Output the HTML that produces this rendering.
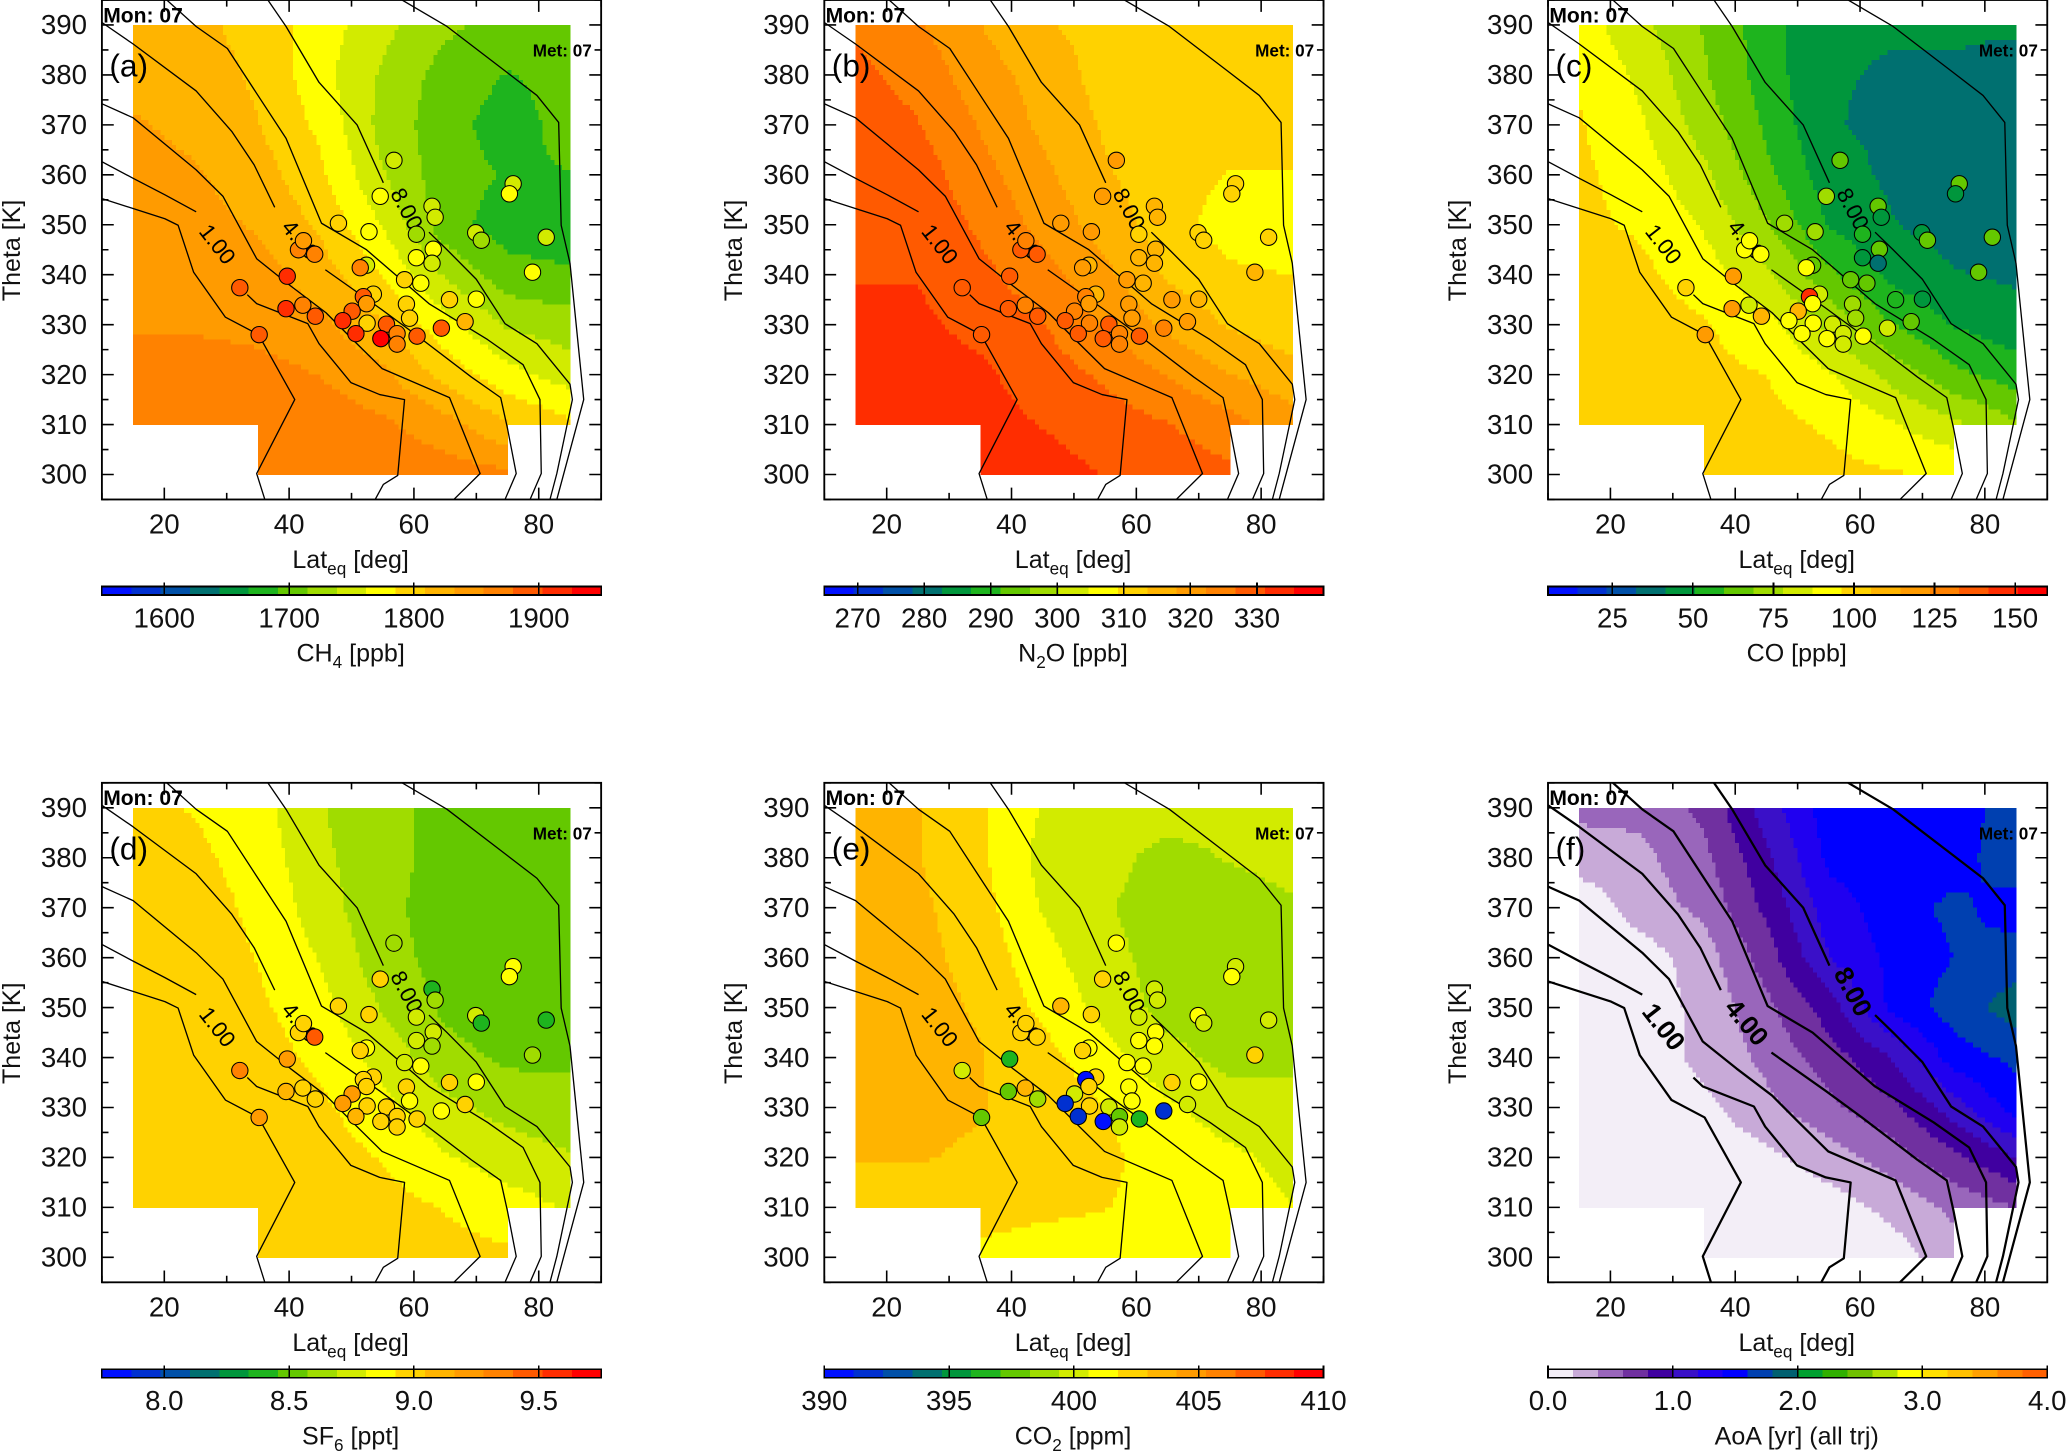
<!DOCTYPE html>
<html><head><meta charset="utf-8"><style>
html,body{margin:0;padding:0;background:#fff;}
svg{display:block;font-family:"Liberation Sans","DejaVu Sans",sans-serif;}
</style></head><body>
<svg id="chart" xmlns="http://www.w3.org/2000/svg" width="2067" height="1451" viewBox="0 0 1568 1101" preserveAspectRatio="none"></svg>
<script>
// ---- grid axes of the background fields ----
const lats=[15,25,35,45,55,65,75,85];
const thetas=[390,380,370,360,350,340,330,320,310,300];
// ---- background fields (rows = thetas, cols = lats) ----
const fieldA=[[1820,1815,1800,1775,1745,1720,1705,1710],[1825,1820,1805,1770,1735,1705,1690,1700],[1835,1825,1810,1780,1730,1700,1680,1700],[1845,1835,1820,1790,1740,1700,1690,1690],[1845,1840,1830,1805,1760,1700,1680,1675],[1848,1848,1842,1820,1785,1735,1700,1695],[1852,1852,1848,1838,1810,1770,1735,1725],[1870,1870,1865,1855,1838,1800,1770,1750],[1872,1872,1872,1870,1860,1842,1810,1790],[1872,1872,1872,1872,1870,1868,1862,1850]];
const fieldB=[[326,323,318,314,312,311,311,311],[328,325,320,316,312,311,310,311],[330,327,322,317,313,311,310,310],[331,329,324,319,314,311,309,309],[331,330,326,321,316,311,307,306],[331,331,328,324,319,313,310,309],[332,332,330,327,322,317,313,311],[333,333,332,329,326,322,318,315],[333,333,333,331,329,327,324,320],[333,333,333,333,331,329,328,327]];
const fieldC=[[92,80,68,55,42,42,42,42],[95,85,70,55,42,41,41,40],[97,88,74,58,42,40,40,38],[98,92,80,62,45,40,36,34],[98,95,86,70,50,42,38,37],[100,98,92,80,62,48,42,40],[100,100,97,90,76,60,50,45],[100,100,99,96,88,75,62,55],[100,100,100,99,95,88,80,70],[100,100,100,100,99,97,95,92]];
const fieldD=[[8.95,8.92,8.85,8.70,8.60,8.55,8.55,8.55],[9.00,8.95,8.88,8.72,8.60,8.55,8.52,8.52],[9.00,8.98,8.90,8.75,8.60,8.53,8.52,8.52],[9.00,9.00,8.92,8.80,8.62,8.53,8.52,8.52],[9.00,9.00,8.95,8.85,8.68,8.55,8.48,8.48],[9.00,9.00,8.98,8.90,8.76,8.62,8.55,8.55],[9.00,9.00,9.00,8.95,8.85,8.72,8.65,8.62],[9.02,9.00,9.00,8.98,8.92,8.82,8.75,8.70],[9.00,9.00,9.00,9.00,8.97,8.92,8.86,8.80],[9.00,9.00,9.00,9.00,9.00,8.97,8.95,8.92]];
const fieldE=[[403.5,403,402,400.5,400,400,399.8,400],[403.5,403,402,400.2,399.8,399,399.5,399.8],[403.5,403.2,402.2,400.5,399.5,398.9,398.8,399.3],[403.5,403.3,402.5,401,399.8,398.9,398.8,399],[403.5,403.4,402.8,401.5,400.2,399,398.8,398.8],[403.5,403.5,403,402.2,401,399.8,399,399],[403.2,403.2,403,402.5,401.8,400.8,400,400],[403,403,402.8,402.5,402,401.3,400.8,400.3],[402.5,402.5,402.2,402,401.8,401.4,401,400.6],[402,402,401.5,401.2,401.2,401.2,401.2,401]];
const fieldF=[[0.45,0.45,0.65,1.1,1.5,1.5,1.5,1.7],[0.3,0.35,0.55,0.95,1.45,1.5,1.5,1.75],[0.05,0.3,0.45,0.85,1.3,1.5,1.65,1.5],[0.05,0.1,0.3,0.7,1.2,1.45,1.6,1.7],[0.05,0.1,0.25,0.55,0.9,1.45,1.7,1.9],[0.05,0.1,0.25,0.45,0.7,1.0,1.5,1.65],[0.05,0.05,0.15,0.35,0.55,0.75,1.1,1.5],[0.05,0.05,0.05,0.15,0.3,0.5,0.75,1.0],[0.05,0.05,0.05,0.05,0.1,0.25,0.45,0.6],[0.05,0.05,0.05,0.05,0.05,0.1,0.3,0.3]];
// ---- observations (same flight points in panels a-e) ----
const obsLat=[56.8,54.6,47.9,52.8,62.9,63.4,60.4,75.9,75.3,69.9,70.8,81.2,79.0,41.5,44.1,42.3,63.1,60.4,62.9,52.4,51.4,39.7,32.1,58.5,61.1,53.5,51.9,52.4,42.2,39.5,44.2,50.1,48.6,58.8,65.7,70.0,59.3,68.2,52.5,55.6,57.3,50.7,54.7,60.5,57.3,64.4,35.2];
const obsTheta=[362.9,355.7,350.3,348.6,353.7,351.5,348.1,358.2,356.2,348.4,346.9,347.5,340.5,345.0,344.1,346.8,345.1,343.4,342.3,341.9,341.4,339.7,337.4,339.0,338.3,336.1,335.6,334.2,333.9,333.2,331.7,332.7,330.8,334.1,335.0,335.1,331.3,330.6,330.3,330.1,328.2,328.2,327.2,327.7,326.1,329.3,328.0];
const obsA=[1740,1775,1800,1780,1745,1745,1720,1750,1770,1745,1735,1745,1770,1860,1870,1850,1770,1775,1745,1740,1860,1910,1890,1790,1780,1790,1900,1840,1860,1920,1900,1880,1920,1800,1790,1780,1800,1820,1800,1890,1860,1910,1940,1900,1870,1900,1900];
const obsB=[318,322,322,318,314,314,313,313,313,313,313,313,315,327,327,325,315,316,316,314,320,329,329,320,317,316,326,322,323,330,329,326,329,322,318,316,322,322,323,327,325,329,330,327,326,326,327];
const obsC=[60,70,72,70,60,45,55,60,42,45,60,62,60,95,95,95,65,45,40,65,95,120,100,68,68,80,150,90,80,115,112,112,95,70,55,50,72,68,90,82,80,90,95,90,85,82,115];
const obsD=[8.6,8.95,8.95,8.95,8.45,8.6,8.8,8.85,8.85,8.8,8.45,8.45,8.65,9.0,9.4,9.0,8.8,8.8,8.65,8.85,9.0,9.2,9.3,8.8,8.85,8.95,9.0,9.0,9.0,9.1,9.0,9.2,9.2,8.95,8.95,8.85,8.85,8.95,9.0,9.0,9.0,9.15,9.0,9.0,9.0,8.9,9.2];
const obsE=[401,402.5,403,402,400.5,400.5,400.5,400.5,401,401,400.5,400.5,402,402.5,402.5,402.5,401,401,401,401.5,402,397,400.5,401,401,402,391,402,403,398,399,399.5,392,401,402,401,401,400.5,402.5,400.5,398,392,391,397,400,392,398];
// ---- age-of-air contour lines [lat, theta] ----
const contourLines=[
 [[9.9,355.3],[20.1,351.2],[22.2,349.9],[24.7,340.5],[29.8,331.5],[35.1,328],[40.9,315],[34.8,300.2],[36.1,295]],
 [[9.9,362.7],[15,359.3],[20.1,356],[25.1,352.6]],
 [[33.3,336],[34.8,334.2],[43,330.2],[44.8,326.2],[49.9,318.4],[54.5,316],[58.5,315],[57.4,299.8],[55.1,298],[53.8,295]],
 [[9.9,374.3],[15,371.4],[25.1,361],[29.4,355.7],[34.8,343.2],[40.2,337.8],[45.9,332.4],[50.2,327],[54.9,321.2],[65.7,315.4],[70.6,300.2],[66.4,295]],
 [[9.9,390.6],[15,386.2],[25.1,376.8],[30.8,368.7],[34.4,362],[37.7,353.5]],
 [[45.8,341],[54.5,333.3],[60.3,328],[69.2,319.5],[73.9,315.4],[75,309.2],[76.4,300.2],[74.6,295]],
 [[20.4,395],[25.1,389.7],[30.1,385.3],[34.8,376.3],[39.5,367.3],[45.2,350.3],[52.4,345],[62.4,334.2],[71.8,327],[77.5,322],[80.2,315],[80.4,300.2],[78.6,295]],
 [[36.6,395],[39.5,389.7],[44.8,378.5],[50.9,370],[55.1,358.4]],
 [[62.4,348.5],[65.3,345],[70,339.1],[74.6,330.2],[79.7,326.2],[85,318.1],[85.4,315],[82.9,300.2],[81.8,295]],
 [[58.1,395],[65.3,389.7],[74.6,380.8],[79.7,375.9],[83.2,370.5],[83.6,349.9],[85,342.3],[87.2,315],[82.9,295]]
];
const contourLabels=["1.00","4.00","8.00"];
const labelLat=[28.3,41.6,58.6];
const labelTheta=[345.9,346.8,353];

const NS="http://www.w3.org/2000/svg";
const svg=document.getElementById('chart');
function mk(tag,attrs,parent){const e=document.createElementNS(NS,tag);for(const k in attrs)e.setAttribute(k,attrs[k]);(parent||svg).appendChild(e);return e;}

const pal=['#0010ff','#0030d0','#0050a8','#007070','#00963c','#1eb41e','#64c800','#a0dc00','#d2eb00','#ffff00','#ffd200','#ffb400','#ff9b00','#ff8200','#ff5a00','#ff2d00','#ff0000'];
const palF=['#f3eef7','#c8aad8','#9966bb','#7030a0','#4000a0','#3a10c8','#2000f0','#0000ff','#0040b0','#006070','#00a030','#30b000','#70c000','#b0e000','#ffff00','#ffe000','#ffc000','#ffa000','#ff8000','#ff6000'];

const panels=[
 {id:'a',ox:0,oy:0,field:fieldA,obs:obsA,vmin:1550,vmax:1950,pal:pal,ticks:[1600,1700,1800,1900],tl:['1600','1700','1800','1900'],title:['CH','4',' [ppb]']},
 {id:'b',ox:548,oy:0,field:fieldB,obs:obsB,vmin:265,vmax:340,pal:pal,ticks:[270,280,290,300,310,320,330],tl:['270','280','290','300','310','320','330'],title:['N','2','O [ppb]']},
 {id:'c',ox:1097,oy:0,field:fieldC,obs:obsC,vmin:5,vmax:160,pal:pal,ticks:[25,50,75,100,125,150],tl:['25','50','75','100','125','150'],title:['CO [ppb]','','']},
 {id:'d',ox:0,oy:594,field:fieldD,obs:obsD,vmin:7.75,vmax:9.75,pal:pal,ticks:[8,8.5,9,9.5],tl:['8.0','8.5','9.0','9.5'],title:['SF','6',' [ppt]']},
 {id:'e',ox:548,oy:594,field:fieldE,obs:obsE,vmin:390,vmax:410,pal:pal,ticks:[390,395,400,405,410],tl:['390','395','400','405','410'],title:['CO','2',' [ppm]']},
 {id:'f',ox:1097,oy:594,field:fieldF,obs:null,vmin:0,vmax:4,pal:palF,ticks:[0,1,2,3,4],tl:['0.0','1.0','2.0','3.0','4.0'],title:['AoA [yr] (all trj)','','']}
];

function X(p,lat){return p.ox+77.3+(lat-10)*4.734;}
function Y(p,th){return p.oy+379-(th-295)*3.79;}
function interp(f,lat,th){
 let fi=(lat-15)/10, ti=(390-th)/10;
 fi=Math.max(0,Math.min(7,fi)); ti=Math.max(0,Math.min(9,ti));
 const i0=Math.min(6,Math.floor(fi)), j0=Math.min(8,Math.floor(ti));
 const u=fi-i0, v=ti-j0;
 return f[j0][i0]*(1-u)*(1-v)+f[j0][i0+1]*u*(1-v)+f[j0+1][i0]*(1-u)*v+f[j0+1][i0+1]*u*v;
}
function cidx(p,v){const N=p.pal.length;let k=Math.floor((v-p.vmin)/(p.vmax-p.vmin)*N);return Math.max(0,Math.min(N-1,k));}

panels.forEach(p=>{
 const g=mk('g',{});
 
 
 const cp=mk('clipPath',{id:'clip'+p.id},g);
 mk('rect',{x:X(p,10),y:Y(p,395),width:X(p,90)-X(p,10),height:Y(p,295)-Y(p,395)},cp);
 const fg=mk('g',{'shape-rendering':'crispEdges'},g);
 
 
 const dl=0.625, dt=1;
 for(let th=390;th>300;th-=dt){
  const tc=th-dt/2;
  let lo=15,hi=85;
  if(tc<310){lo=35;hi=75;}
  let runStart=lo,runK=-1;
  for(let la=lo;la<=hi+1e-6;la+=dl){
   let k=-1;
   if(la<hi-1e-6){k=cidx(p,interp(p.field,la+dl/2,tc));}
   if(k!==runK){
    if(runK>=0){
     const r=mk('rect',{x:X(p,runStart),y:Y(p,th),width:X(p,la)-X(p,runStart)+0.4,height:Y(p,th-dt)-Y(p,th)+0.4,fill:p.pal[runK]},fg);
     
     
    }
    runStart=la;runK=k;
   }
  }
 }
 const lg=mk('g',{'clip-path':'url(#clip'+p.id+')',fill:'none',stroke:'#000','stroke-width':p.id==='f'?1.7:1.0,'stroke-linejoin':'round'},g);
 contourLines.forEach((ln,i)=>{
  const pl=mk('polyline',{points:ln.map(q=>X(p,q[0]).toFixed(1)+','+Y(p,q[1]).toFixed(1)).join(' ')},lg);
  
  
 });
 contourLabels.forEach((t,i)=>{
  const x=X(p,labelLat[i]), y=Y(p,labelTheta[i]);
  const tx=mk('text',{x:x,y:y,'font-size':p.id==='f'?20:17,'font-weight':p.id==='f'?'bold':'normal','text-anchor':'middle','dominant-baseline':'middle',transform:'rotate('+(i===0?52:i===1?50:62)+' '+x+' '+y+')'},g);
  tx.textContent=t;
  
  
 });
 if(p.obs){
  obsLat.forEach((la,i)=>{
   const c=mk('circle',{cx:X(p,la),cy:Y(p,obsTheta[i]),r:6.2,fill:p.pal[cidx(p,p.obs[i])],stroke:'#000','stroke-width':0.8},g);
   
   
  });
 }
 const fr=mk('rect',{x:X(p,10),y:Y(p,395),width:X(p,90)-X(p,10),height:Y(p,295)-Y(p,395),fill:'none',stroke:'#000','stroke-width':1.4},g);
 
 
 let d='';
 for(let th=295;th<=395;th+=5){const y=Y(p,th),L=(th%10===0)?9:5;d+=`M${X(p,10)},${y}h${L}M${X(p,90)},${y}h${-L}`;}
 for(let la=10;la<=90;la+=10){const x=X(p,la),L=(la%20===0)?9:5;d+=`M${x},${Y(p,295)}v${-L}M${x},${Y(p,395)}v${L}`;}
 const tk=mk('path',{d:d,stroke:'#000','stroke-width':1.2,fill:'none'},g);
 
 
 for(let th=300;th<=390;th+=10){
  const t=mk('text',{x:p.ox+66,y:Y(p,th)+7,'font-size':21,'text-anchor':'end',fill:'#111'},g);
  t.textContent=th;
  
  
 }
 for(let la=20;la<=80;la+=20){
  const t=mk('text',{x:X(p,la),y:p.oy+405,'font-size':21,'text-anchor':'middle',fill:'#111'},g);
  t.textContent=la;
  
  
 }
 const xt=mk('text',{x:p.ox+266,y:p.oy+431,'font-size':19,'text-anchor':'middle',fill:'#111'},g);
 xt.innerHTML='Lat<tspan font-size="13" dy="5">eq</tspan><tspan dy="-5"> [deg]</tspan>';
 
 
 const yt=mk('text',{x:p.ox+15,y:p.oy+190,'font-size':19,'text-anchor':'middle',fill:'#111',transform:`rotate(-90 ${p.ox+15} ${p.oy+190})`},g);
 yt.textContent='Theta [K]';
 
 
 const mon=mk('text',{x:X(p,10)+1,y:p.oy+17,'font-size':16,'font-weight':'bold'},g);
 mon.textContent='Mon: 07';
 
 
 const met=mk('text',{x:X(p,88.5),y:p.oy+43,'font-size':13,'font-weight':'bold','text-anchor':'end'},g);
 met.textContent='Met: 07';
 
 
 const pid=mk('text',{x:X(p,11.2),y:p.oy+58,'font-size':24},g);
 pid.textContent='('+p.id+')';
 
 
 const cb=mk('g',{'shape-rendering':'crispEdges'},g);
 
 
 const bx0=X(p,10),bx1=X(p,90),by=p.oy+445,bh=6.5,N=p.pal.length,w=(bx1-bx0)/N;
 p.pal.forEach((c,i)=>{
  const r=mk('rect',{x:bx0+i*w,y:by,width:w+0.3,height:bh,fill:c},cb);
  
  
 });
 mk('rect',{x:bx0,y:by,width:bx1-bx0,height:bh,fill:'none',stroke:'#000','stroke-width':1.2},cb);
 p.ticks.forEach((v,i)=>{
  const x=bx0+(v-p.vmin)/(p.vmax-p.vmin)*(bx1-bx0);
  mk('line',{x1:x,x2:x,y1:by-3,y2:by+bh,stroke:'#000','stroke-width':1.2},cb);
  const t=mk('text',{x:x,y:by+31,'font-size':21,'text-anchor':'middle',fill:'#111'},g);
  t.textContent=p.tl[i];
  
  
 });
 const ct=mk('text',{x:p.ox+266,y:p.oy+502,'font-size':19,'text-anchor':'middle',fill:'#111'},g);
 ct.innerHTML=p.title[0]+(p.title[1]?'<tspan font-size="13" dy="5">'+p.title[1]+'</tspan><tspan dy="-5">'+p.title[2]+'</tspan>':'');
 
 
});
</script>
</body></html>
